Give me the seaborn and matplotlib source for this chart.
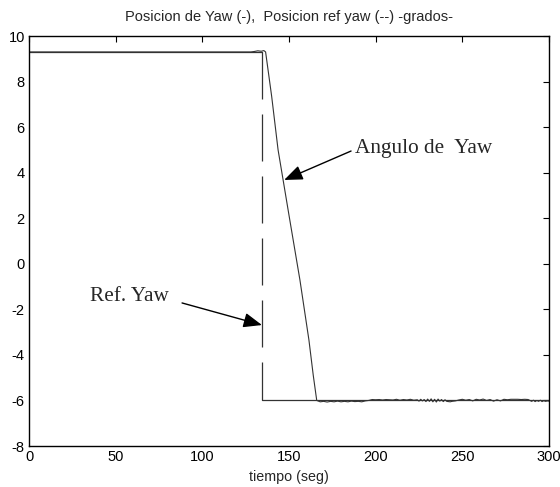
import matplotlib
matplotlib.use("Agg")
import matplotlib.pyplot as plt
import seaborn as sns
import pandas as pd

# ---- data ----
pre_t = [0, 128, 130, 132, 134, 135.5, 136.5]
pre_y = [9.3, 9.3, 9.32, 9.35, 9.33, 9.36, 9.3]

ramp_t = [140, 143.7, 146.6, 150, 156.3, 161.5, 164]
ramp_y = [7.35, 5.0, 3.68, 2.13, -0.71, -3.35, -4.9]

settle_t = [166, 168, 170, 172, 174, 176, 178, 180, 182, 184, 186, 188, 190, 192, 194,
            196, 198, 200, 202, 204, 206, 208, 210, 212, 214, 216, 218, 220, 222, 224,
            225, 226, 227, 228, 229, 230, 231, 232, 233, 234, 235, 236, 237, 238, 239,
            240, 241, 242, 243, 244,
            246, 248, 250, 252, 254, 256, 258, 260, 262, 264, 266, 268, 270, 272, 274,
            276, 278, 280, 282, 284, 286, 288,
            289, 290, 291, 292, 293, 294, 295, 296, 297, 298, 299, 300]
settle_y = [-6.0, -6.06, -6.04, -6.07, -6.04, -6.06, -6.03, -6.06, -6.04, -6.06,
            -6.03, -6.05, -6.04, -6.06, -6.02, -6.0, -5.96, -5.97, -5.96, -5.98,
            -5.96, -5.97, -5.98, -5.95, -5.99, -5.96, -5.98, -5.95, -5.99, -5.97,
            -6.03, -5.95, -6.02, -5.96, -6.05, -5.94, -6.04, -5.93, -6.06, -5.95,
            -6.07, -5.94, -6.03, -5.96, -6.05, -5.97, -6.04, -6.05, -6.06, -6.04,
            -6.02, -5.98, -5.95, -5.99, -5.96, -6.02, -5.95, -5.98, -5.94, -6.0,
            -5.96, -6.03, -5.97, -6.02, -5.95, -5.97, -5.95, -5.95, -5.95, -5.96,
            -5.95, -5.96, -6.0, -6.04, -5.99, -6.05, -6.0, -6.04, -5.99, -6.05,
            -6.01, -6.04, -6.02, -6.03]

ref_t = [0, 134.5, 134.5, 300]
ref_y = [9.3, 9.3, -6.0, -6.0]

x_ticks = [0, 50, 100, 150, 200, 250, 300]
y_ticks = [-8, -6, -4, -2, 0, 2, 4, 6, 8, 10]

title = "Posicion de Yaw (-),  Posicion ref yaw (--) -grados-"
xlabel = "tiempo (seg)"
label_yaw = "Angulo de  Yaw"
label_ref = "Ref. Yaw"

yaw_df = pd.DataFrame({"t": pre_t + ramp_t + settle_t, "y": pre_y + ramp_y + settle_y})
ref_df = pd.DataFrame({"t": ref_t, "y": ref_y})

# ---- style ----
sns.set_style("white")
plt.rcParams["font.family"] = ["Liberation Sans", "DejaVu Sans"]
plt.rcParams["lines.scale_dashes"] = False
plt.rcParams["axes.unicode_minus"] = False

fig = plt.figure(figsize=(5.6, 4.87), dpi=100)
ax = fig.add_axes([29 / 560, 1 - 446 / 487, 520 / 560, 410 / 487])

sns.lineplot(data=ref_df, x="t", y="y", ax=ax, sort=False, estimator=None,
             color="#333333", linewidth=0.9)
# dash pattern (points): solid along top, long dashes down the step, solid at bottom
px = 0.72
dash_seq = [(233 + 47) * px, 15 * px, 47 * px, 15 * px, 47 * px, 15 * px,
            47 * px, 15 * px, 47 * px, 15 * px, (38 + 300) * px, 1 * px]
ax.lines[-1].set_dashes(dash_seq)
ax.lines[-1].set_dash_capstyle("butt")
sns.lineplot(data=yaw_df, x="t", y="y", ax=ax, sort=False, estimator=None,
             color="#333333", linewidth=0.8)

ax.set_xlim(0, 300)
ax.set_ylim(-8, 10)
ax.set_xticks(x_ticks)
ax.set_yticks(y_ticks)
ax.tick_params(direction="in", length=4, width=0.8, top=True, right=True,
               labelsize=10.5, pad=3, colors="black")
for s in ax.spines.values():
    s.set_color("black")
    s.set_linewidth(1.0)
    s.set_visible(True)

ax.set_title(title, fontsize=10.5, pad=11)
ax.set_xlabel(xlabel, fontsize=10.3, labelpad=4)
ax.set_ylabel("")

# annotations
ax.annotate("", xy=(147.2, 3.68), xytext=(185.8, 4.95),
            arrowprops=dict(arrowstyle="-|>,head_length=0.75,head_width=0.3",
                            color="black", lw=1, shrinkA=0, shrinkB=0,
                            mutation_scale=15))
ax.text(188.1, 4.88, label_yaw, fontsize=15.3, family="Liberation Serif",
        ha="left", va="baseline")
ax.annotate("", xy=(134.4, -2.69), xytext=(88.3, -1.72),
            arrowprops=dict(arrowstyle="-|>,head_length=0.75,head_width=0.3",
                            color="black", lw=1, shrinkA=0, shrinkB=0,
                            mutation_scale=15))
ax.text(35.2, -1.62, label_ref, fontsize=15.3, family="Liberation Serif",
        ha="left", va="baseline")

fig.savefig("out.png", dpi=100)
